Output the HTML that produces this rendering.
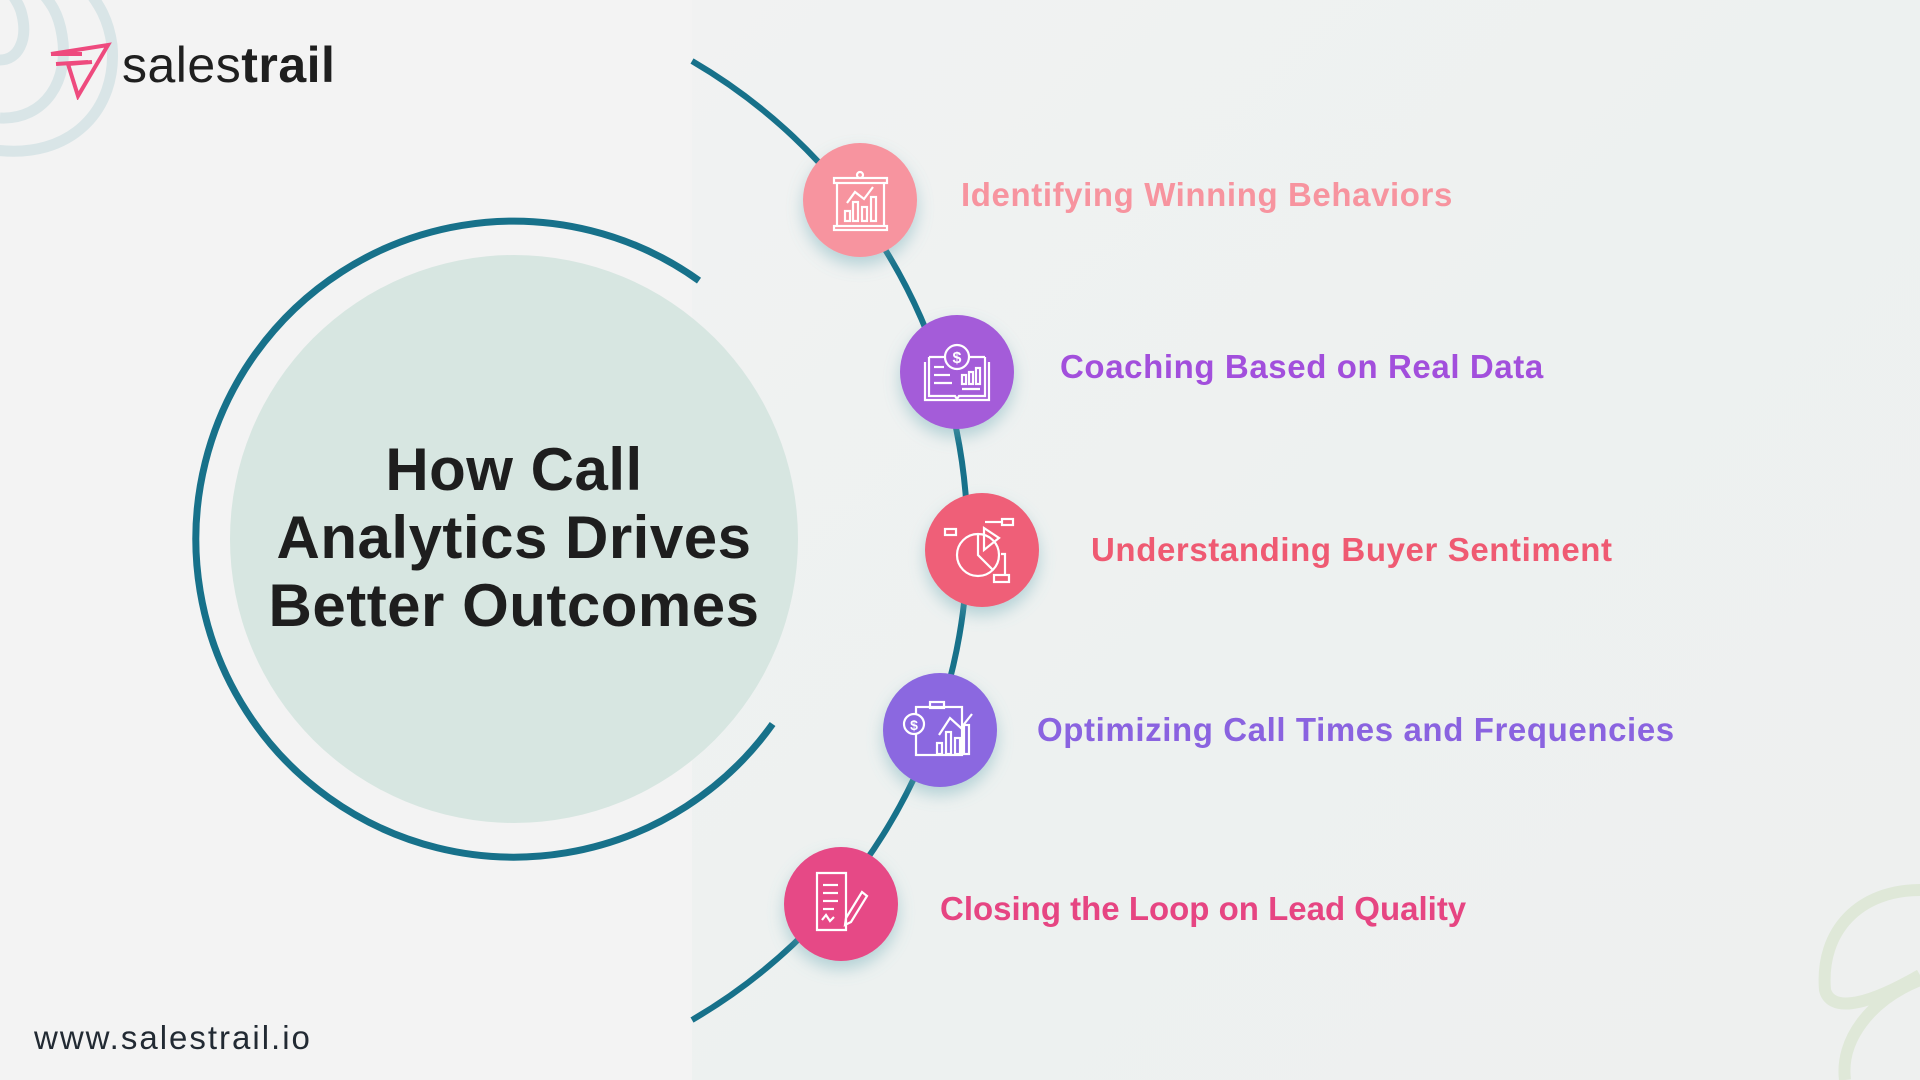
<!DOCTYPE html>
<html><head><meta charset="utf-8"><style>
html,body{margin:0;padding:0}
body{width:1920px;height:1080px;overflow:hidden;position:relative;background:#f3f3f3;font-family:"Liberation Sans",sans-serif}
.right{position:absolute;left:692px;top:0;width:1228px;height:1080px;background:linear-gradient(135deg,#f1f2f2 0%,#edf1f0 50%,#eef0ef 100%)}
.lbl{position:absolute;font-weight:bold;font-size:33px;white-space:nowrap;transform:translateY(-50%);letter-spacing:0.6px}
.title{position:absolute;left:164px;width:700px;text-align:center;font-weight:bold;font-size:60px;color:#1e1e1e;line-height:68px;top:436px;letter-spacing:0.5px}
</style></head><body>
<div class="right"></div>
<svg width="1920" height="1080" style="position:absolute;left:0;top:0">
<defs>
<filter id="sh" x="-50%" y="-50%" width="200%" height="200%"><feDropShadow dx="0" dy="8" stdDeviation="8" flood-color="#6aa9b5" flood-opacity="0.45"/></filter>
</defs>
<g fill="none" stroke="#d9e5e7" stroke-width="11">
<path d="M-5,150 C70,160 118,110 112,45 C108,15 95,0 88,-10"/>
<path d="M0,118 C45,120 70,80 62,35 C58,10 48,0 40,-10"/>
<path d="M0,60 C18,60 28,40 22,15 C20,5 15,0 10,-10"/>
</g>
<g fill="none" stroke="#dfe8d8" stroke-width="12">
<path d="M1920,890 C1860,890 1820,930 1825,990 C1830,1010 1860,1010 1920,975"/>
<path d="M1920,980 C1870,1000 1840,1040 1845,1080"/>
</g>
<circle cx="514" cy="539" r="284" fill="#d7e6e1"/>
<path d="M 772.6 724 A 318 318 0 1 1 699 280.6" fill="none" stroke="#17718a" stroke-width="7"/>
<path d="M 692 61 A 555 555 0 0 1 692 1020" fill="none" stroke="#17718a" stroke-width="6"/>
<circle cx="860" cy="200" r="57" fill="#f7949f" filter="url(#sh)"/>
<circle cx="957" cy="372" r="57" fill="#a45bd9" filter="url(#sh)"/>
<circle cx="982" cy="550" r="57" fill="#ef5e78" filter="url(#sh)"/>
<circle cx="940" cy="730" r="57" fill="#8b68e0" filter="url(#sh)"/>
<circle cx="841" cy="904" r="57" fill="#e64886" filter="url(#sh)"/>
<g fill="none" stroke="#fff" stroke-width="2.2">
<rect x="834" y="178" width="53" height="5"/><rect x="834" y="226" width="53" height="4"/>
<line x1="837" y1="183" x2="837" y2="226"/><line x1="884" y1="183" x2="884" y2="226"/>
<circle cx="860" cy="175" r="3"/>
<rect x="845" y="211" width="5" height="10"/><rect x="853" y="202" width="5" height="19"/><rect x="862" y="207" width="5" height="14"/><rect x="871" y="197" width="5" height="24"/>
<polyline points="847,203 855,192 864,199 873,187"/>
<circle cx="957" cy="357" r="12"/><text x="957" y="363" fill="#fff" stroke="none" font-size="16" font-weight="bold" text-anchor="middle">$</text>
<path d="M925,362 V400 H989 V362"/><path d="M929,357 H944 M970,357 H985 M929,357 V396 H955 L957,399 L959,396 H985 V357"/>
<line x1="934" y1="367" x2="944" y2="367"/><line x1="934" y1="375" x2="950" y2="375"/><line x1="934" y1="383" x2="952" y2="383"/><line x1="962" y1="389" x2="980" y2="389"/>
<rect x="962" y="375" width="4" height="9"/><rect x="969" y="372" width="4" height="12"/><rect x="976" y="368" width="4" height="16"/>
<circle cx="978" cy="555" r="21"/><path d="M978,534 V555 L993,570"/><path d="M984,528 L999,538 L984,550 Z"/>
<rect x="945" y="529" width="11" height="6"/><rect x="1002" y="519" width="11" height="6"/><rect x="994" y="575" width="15" height="7"/>
<path d="M1001,554 H1005 V575"/><path d="M985,522 H1001"/>
<rect x="916" y="707" width="46" height="48" /><rect x="930" y="702" width="14" height="6"/>
<circle cx="914" cy="724" r="10" fill="#8b68e0"/><text x="914" y="730" fill="#fff" stroke="none" font-size="14" font-weight="bold" text-anchor="middle">$</text>
<rect x="937" y="743" width="5" height="11"/><rect x="946" y="732" width="5" height="22"/><rect x="955" y="738" width="5" height="16"/><rect x="964" y="725" width="5" height="29"/>
<polyline points="939,735 950,718 961,728 972,714"/>
<path d="M817,873 H846 V930 H817 Z"/><line x1="823" y1="885" x2="838" y2="885"/><line x1="823" y1="893" x2="838" y2="893"/><line x1="823" y1="901" x2="838" y2="901"/><line x1="823" y1="909" x2="834" y2="909"/>
<path d="M846,918 L862,892 L867,896 L851,922 L845,925 Z"/><path d="M822,920 L826,915 L830,921 L834,917"/>
</g>
</svg>
<svg width="66" height="58" style="position:absolute;left:48px;top:42px" viewBox="0 0 66 58">
<g fill="none" stroke="#ee4a7e" stroke-width="4">
<path d="M3,12 L60,3 L30,54 L20,22"/><path d="M3,12 L34,12"/><path d="M8,22 L40,20"/><path d="M20,22 L44,20"/>
</g></svg>
<div style="position:absolute;left:122px;top:36px;font-size:50px;color:#1f1f1f;letter-spacing:0.5px"><span style="font-weight:normal">sales</span><span style="font-weight:bold">trail</span></div>
<div class="title">How Call<br>Analytics Drives<br>Better Outcomes</div>
<div class="lbl" style="left:961px;top:195px;color:#f7949f">Identifying Winning Behaviors</div>
<div class="lbl" style="left:1060px;top:367px;color:#a24fdc">Coaching Based on Real Data</div>
<div class="lbl" style="left:1091px;top:550px;color:#ef5a72">Understanding Buyer Sentiment</div>
<div class="lbl" style="left:1037px;top:730px;color:#8a63e0">Optimizing Call Times and Frequencies</div>
<div class="lbl" style="left:940px;top:909px;color:#e64582;letter-spacing:0px">Closing the Loop on Lead Quality</div>
<div style="position:absolute;left:34px;top:1019px;font-size:33px;color:#222a33;letter-spacing:2px">www.salestrail.io</div>
</body></html>
